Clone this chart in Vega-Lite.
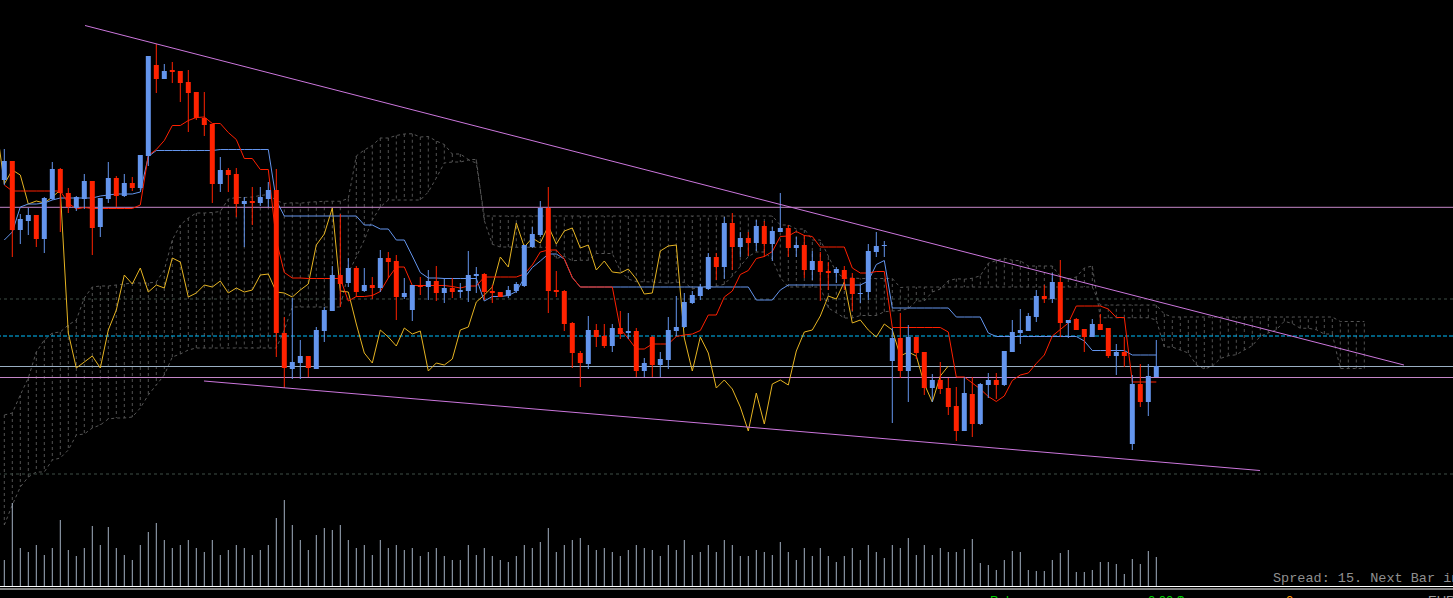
{
"$schema":"https://vega.github.io/schema/vega-lite/v6.json",
"width":1453,"height":598,
"autosize":{"type":"fit","contains":"padding"},
"padding":0,
"background":"#000000",
"config":{"view":{"stroke":null},"scale":{"continuousPadding":0}},
"datasets":{
"bars":[
{"i":-1,"ch":144.73},
{"i":0,"o":144.18,"h":144.49,"l":144.13,"c":144.37,"t":144.13,"k":143.58,"ch":144.14,"v":260},
{"i":1,"o":144.37,"h":144.37,"l":143.41,"c":143.68,"t":144.07,"k":143.66,"ch":144.28,"v":830},
{"i":2,"o":143.68,"h":143.84,"l":143.54,"c":143.79,"t":144.07,"k":143.91,"ch":144.23,"v":380},
{"i":3,"o":143.77,"h":143.90,"l":143.63,"c":143.83,"t":144.07,"k":143.94,"ch":143.94,"v":340},
{"i":4,"o":143.83,"h":143.83,"l":143.51,"c":143.59,"t":144.07,"k":143.94,"ch":143.97,"v":410},
{"i":5,"o":143.59,"h":144.01,"l":143.45,"c":144.00,"t":144.07,"k":143.95,"ch":143.95,"v":310},
{"i":6,"o":143.99,"h":144.36,"l":143.98,"c":144.29,"t":144.07,"k":143.98,"ch":144.01,"v":380},
{"i":7,"o":144.29,"h":144.30,"l":143.66,"c":144.05,"t":144.07,"k":144.00,"ch":144.08,"v":660},
{"i":8,"o":144.05,"h":144.10,"l":143.85,"c":143.91,"t":143.95,"k":144.00,"ch":142.65,"v":360},
{"i":9,"o":143.90,"h":144.02,"l":143.87,"c":144.01,"t":143.89,"k":144.00,"ch":142.30,"v":300},
{"i":10,"o":143.99,"h":144.24,"l":143.89,"c":144.17,"t":143.905,"k":144.00,"ch":142.36,"v":380},
{"i":11,"o":144.17,"h":144.17,"l":143.43,"c":143.70,"t":143.895,"k":144.00,"ch":142.42,"v":600},
{"i":12,"o":143.71,"h":144.00,"l":143.61,"c":144.00,"t":143.895,"k":144.02,"ch":142.30,"v":410},
{"i":13,"o":143.99,"h":144.36,"l":143.95,"c":144.20,"t":143.895,"k":144.03,"ch":142.68,"v":590},
{"i":14,"o":144.20,"h":144.22,"l":143.91,"c":144.02,"t":143.895,"k":144.04,"ch":142.88,"v":380},
{"i":15,"o":144.02,"h":144.24,"l":144.01,"c":144.15,"t":143.895,"k":144.04,"ch":143.23,"v":310},
{"i":16,"o":144.15,"h":144.21,"l":144.07,"c":144.10,"t":143.895,"k":144.04,"ch":143.14,"v":260},
{"i":17,"o":144.10,"h":144.43,"l":144.08,"c":144.43,"t":143.93,"k":144.06,"ch":143.30,"v":410},
{"i":18,"o":144.42,"h":145.42,"l":144.32,"c":145.42,"t":144.425,"k":144.415,"ch":143.06,"v":540},
{"i":19,"o":145.33,"h":145.54,"l":145.05,"c":145.19,"t":144.485,"k":144.475,"ch":143.13,"v":630},
{"i":20,"o":145.19,"h":145.34,"l":145.19,"c":145.27,"t":144.575,"k":144.475,"ch":143.10,"v":460},
{"i":21,"o":145.28,"h":145.36,"l":145.15,"c":145.26,"t":144.725,"k":144.475,"ch":143.40,"v":380},
{"i":22,"o":145.27,"h":145.27,"l":144.96,"c":145.15,"t":144.725,"k":144.475,"ch":143.36,"v":410},
{"i":23,"o":145.16,"h":145.28,"l":144.66,"c":145.05,"t":144.775,"k":144.475,"ch":143.01,"v":460},
{"i":24,"o":145.06,"h":145.06,"l":144.78,"c":144.80,"t":144.805,"k":144.475,"ch":143.05,"v":380},
{"i":25,"o":144.80,"h":145.06,"l":144.62,"c":144.73,"t":144.81,"k":144.475,"ch":143.13,"v":340},
{"i":26,"o":144.74,"h":144.74,"l":143.95,"c":144.14,"t":144.745,"k":144.475,"ch":143.11,"v":460},
{"i":27,"o":144.14,"h":144.41,"l":144.06,"c":144.28,"t":144.745,"k":144.485,"ch":143.17,"v":310},
{"i":28,"o":144.28,"h":144.30,"l":144.06,"c":144.23,"t":144.655,"k":144.485,"ch":143.05,"v":360},
{"i":29,"o":144.24,"h":144.30,"l":143.81,"c":143.94,"t":144.585,"k":144.485,"ch":143.10,"v":410},
{"i":30,"o":143.94,"h":144.01,"l":143.51,"c":143.97,"t":144.395,"k":144.485,"ch":143.06,"v":380},
{"i":31,"o":143.97,"h":144.11,"l":143.73,"c":143.95,"t":144.395,"k":144.485,"ch":143.08,"v":310},
{"i":32,"o":143.95,"h":144.11,"l":143.92,"c":144.01,"t":144.285,"k":144.485,"ch":143.23,"v":360},
{"i":33,"o":143.99,"h":144.16,"l":143.91,"c":144.08,"t":144.285,"k":144.485,"ch":143.24,"v":410},
{"i":34,"o":144.08,"h":144.29,"l":142.41,"c":142.65,"t":143.575,"k":143.975,"ch":143.06,"v":680},
{"i":35,"o":142.65,"h":142.81,"l":142.10,"c":142.30,"t":143.255,"k":143.82,"ch":143.05,"v":860},
{"i":36,"o":142.29,"h":143.00,"l":142.19,"c":142.36,"t":143.20,"k":143.82,"ch":143.01,"v":610},
{"i":37,"o":142.35,"h":142.58,"l":142.19,"c":142.42,"t":143.20,"k":143.82,"ch":143.08,"v":460},
{"i":38,"o":142.42,"h":142.42,"l":142.21,"c":142.30,"t":143.195,"k":143.82,"ch":143.14,"v":360},
{"i":39,"o":142.29,"h":142.71,"l":142.29,"c":142.68,"t":143.195,"k":143.82,"ch":143.53,"v":510},
{"i":40,"o":142.67,"h":142.91,"l":142.56,"c":142.88,"t":143.195,"k":143.82,"ch":143.64,"v":580},
{"i":41,"o":142.87,"h":143.32,"l":142.87,"c":143.23,"t":143.195,"k":143.82,"ch":143.90,"v":560},
{"i":42,"o":143.23,"h":143.84,"l":142.91,"c":143.14,"t":143.195,"k":143.82,"ch":143.07,"v":610},
{"i":43,"o":143.15,"h":143.40,"l":143.11,"c":143.30,"t":142.97,"k":143.82,"ch":143.06,"v":460},
{"i":44,"o":143.30,"h":143.32,"l":143.01,"c":143.06,"t":143.015,"k":143.82,"ch":142.74,"v":380},
{"i":45,"o":143.07,"h":143.30,"l":143.06,"c":143.13,"t":143.015,"k":143.73,"ch":142.45,"v":410},
{"i":46,"o":143.13,"h":143.21,"l":142.99,"c":143.10,"t":143.025,"k":143.73,"ch":142.35,"v":310},
{"i":47,"o":143.10,"h":143.48,"l":143.06,"c":143.40,"t":143.065,"k":143.69,"ch":142.68,"v":460},
{"i":48,"o":143.40,"h":143.46,"l":143.20,"c":143.36,"t":143.20,"k":143.69,"ch":142.61,"v":380},
{"i":49,"o":143.37,"h":143.43,"l":142.78,"c":143.01,"t":143.31,"k":143.58,"ch":142.52,"v":410},
{"i":50,"o":143.01,"h":143.20,"l":142.99,"c":143.05,"t":143.31,"k":143.58,"ch":142.70,"v":360},
{"i":51,"o":142.88,"h":143.13,"l":142.77,"c":143.13,"t":143.125,"k":143.42,"ch":142.64,"v":380},
{"i":52,"o":143.13,"h":143.21,"l":143.03,"c":143.11,"t":143.125,"k":143.255,"ch":142.67,"v":300},
{"i":53,"o":143.11,"h":143.28,"l":142.98,"c":143.17,"t":143.125,"k":143.20,"ch":142.27,"v":340},
{"i":54,"o":143.17,"h":143.32,"l":142.97,"c":143.05,"t":143.125,"k":143.20,"ch":142.35,"v":380},
{"i":55,"o":143.05,"h":143.20,"l":142.95,"c":143.10,"t":143.125,"k":143.195,"ch":142.33,"v":300},
{"i":56,"o":143.10,"h":143.20,"l":143.00,"c":143.06,"t":143.115,"k":143.195,"ch":142.39,"v":260},
{"i":57,"o":143.06,"h":143.15,"l":143.00,"c":143.08,"t":143.10,"k":143.195,"ch":142.68,"v":260},
{"i":58,"o":143.07,"h":143.47,"l":142.96,"c":143.23,"t":143.12,"k":143.195,"ch":142.71,"v":410},
{"i":59,"o":143.22,"h":143.31,"l":143.05,"c":143.24,"t":143.12,"k":143.195,"ch":142.96,"v":310},
{"i":60,"o":143.24,"h":143.25,"l":142.98,"c":143.06,"t":143.21,"k":142.97,"ch":143.03,"v":380},
{"i":61,"o":143.07,"h":143.13,"l":142.95,"c":143.05,"t":143.21,"k":143.015,"ch":143.11,"v":300},
{"i":62,"o":143.06,"h":143.06,"l":143.01,"c":143.01,"t":143.21,"k":143.015,"ch":143.41,"v":260},
{"i":63,"o":143.02,"h":143.12,"l":143.00,"c":143.08,"t":143.21,"k":143.025,"ch":143.31,"v":240},
{"i":64,"o":143.07,"h":143.16,"l":143.05,"c":143.14,"t":143.21,"k":143.065,"ch":143.75,"v":300},
{"i":65,"o":143.12,"h":143.53,"l":143.11,"c":143.53,"t":143.24,"k":143.20,"ch":143.51,"v":410},
{"i":66,"o":143.51,"h":143.71,"l":143.50,"c":143.64,"t":143.33,"k":143.305,"ch":143.60,"v":380},
{"i":67,"o":143.63,"h":143.97,"l":143.61,"c":143.90,"t":143.46,"k":143.37,"ch":143.55,"v":440},
{"i":68,"o":143.90,"h":144.11,"l":142.85,"c":143.07,"t":143.48,"k":143.44,"ch":143.72,"v":580},
{"i":69,"o":143.08,"h":143.27,"l":143.01,"c":143.06,"t":143.48,"k":143.44,"ch":143.54,"v":340},
{"i":70,"o":143.07,"h":143.08,"l":142.67,"c":142.74,"t":143.39,"k":143.39,"ch":143.67,"v":410},
{"i":71,"o":142.75,"h":142.76,"l":142.30,"c":142.45,"t":143.205,"k":143.205,"ch":143.70,"v":460},
{"i":72,"o":142.45,"h":142.47,"l":142.11,"c":142.35,"t":143.11,"k":143.11,"ch":143.50,"v":480},
{"i":73,"o":142.34,"h":142.82,"l":142.29,"c":142.68,"t":143.11,"k":143.11,"ch":143.53,"v":410},
{"i":74,"o":142.68,"h":142.74,"l":142.51,"c":142.61,"t":143.11,"k":143.11,"ch":143.28,"v":360},
{"i":75,"o":142.62,"h":142.74,"l":142.50,"c":142.52,"t":143.11,"k":143.11,"ch":143.37,"v":380},
{"i":76,"o":142.52,"h":142.74,"l":142.46,"c":142.70,"t":143.11,"k":143.11,"ch":143.26,"v":340},
{"i":77,"o":142.70,"h":142.87,"l":142.59,"c":142.64,"t":142.69,"k":143.11,"ch":143.25,"v":300},
{"i":78,"o":142.65,"h":142.85,"l":142.59,"c":142.67,"t":142.595,"k":143.11,"ch":143.29,"v":360},
{"i":79,"o":142.67,"h":142.70,"l":142.21,"c":142.27,"t":142.49,"k":143.11,"ch":143.19,"v":410},
{"i":80,"o":142.27,"h":142.40,"l":142.21,"c":142.35,"t":142.49,"k":143.11,"ch":143.04,"v":380},
{"i":81,"o":142.61,"h":142.62,"l":142.21,"c":142.33,"t":142.54,"k":143.11,"ch":143.05,"v":360},
{"i":82,"o":142.33,"h":142.46,"l":142.21,"c":142.39,"t":142.54,"k":143.11,"ch":143.47,"v":300},
{"i":83,"o":142.38,"h":142.81,"l":142.29,"c":142.68,"t":142.54,"k":143.11,"ch":143.52,"v":410},
{"i":84,"o":142.67,"h":143.02,"l":142.62,"c":142.71,"t":142.615,"k":143.11,"ch":143.53,"v":360},
{"i":85,"o":142.71,"h":143.05,"l":142.70,"c":142.96,"t":142.63,"k":143.11,"ch":142.60,"v":460},
{"i":86,"o":142.95,"h":143.07,"l":142.94,"c":143.03,"t":142.64,"k":143.11,"ch":142.27,"v":310},
{"i":87,"o":143.02,"h":143.14,"l":142.98,"c":143.11,"t":142.675,"k":143.11,"ch":142.61,"v":340},
{"i":88,"o":143.09,"h":143.45,"l":143.08,"c":143.41,"t":142.83,"k":143.11,"ch":142.45,"v":410},
{"i":89,"o":143.41,"h":143.45,"l":143.18,"c":143.31,"t":142.83,"k":143.11,"ch":142.10,"v":340},
{"i":90,"o":143.31,"h":143.81,"l":143.19,"c":143.75,"t":143.01,"k":143.11,"ch":142.18,"v":460},
{"i":91,"o":143.75,"h":143.85,"l":143.28,"c":143.51,"t":143.07,"k":143.11,"ch":142.09,"v":410},
{"i":92,"o":143.51,"h":143.66,"l":143.41,"c":143.60,"t":143.235,"k":143.11,"ch":141.91,"v":300},
{"i":93,"o":143.60,"h":143.66,"l":143.42,"c":143.55,"t":143.275,"k":143.11,"ch":141.67,"v":300},
{"i":94,"o":143.55,"h":143.78,"l":143.47,"c":143.72,"t":143.395,"k":142.98,"ch":142.05,"v":360},
{"i":95,"o":143.72,"h":143.77,"l":143.41,"c":143.54,"t":143.415,"k":142.98,"ch":141.74,"v":340},
{"i":96,"o":143.54,"h":143.71,"l":143.37,"c":143.67,"t":143.465,"k":142.98,"ch":142.14,"v":310},
{"i":97,"o":143.66,"h":144.05,"l":143.66,"c":143.70,"t":143.615,"k":143.08,"ch":142.18,"v":440},
{"i":98,"o":143.70,"h":143.73,"l":143.41,"c":143.50,"t":143.62,"k":143.13,"ch":142.13,"v":340},
{"i":99,"o":143.50,"h":143.61,"l":143.41,"c":143.53,"t":143.665,"k":143.13,"ch":142.47,"v":260},
{"i":100,"o":143.53,"h":143.63,"l":143.20,"c":143.28,"t":143.625,"k":143.13,"ch":142.66,"v":380},
{"i":101,"o":143.28,"h":143.47,"l":143.18,"c":143.37,"t":143.615,"k":143.13,"ch":142.68,"v":300},
{"i":102,"o":143.37,"h":143.46,"l":142.97,"c":143.26,"t":143.51,"k":143.13,"ch":142.82,"v":380},
{"i":103,"o":143.27,"h":143.36,"l":143.08,"c":143.25,"t":143.51,"k":143.13,"ch":143.02,"v":300},
{"i":104,"o":143.25,"h":143.31,"l":143.15,"c":143.29,"t":143.51,"k":143.13,"ch":142.99,"v":240},
{"i":105,"o":143.28,"h":143.32,"l":143.08,"c":143.19,"t":143.51,"k":143.13,"ch":143.16,"v":300},
{"i":106,"o":143.20,"h":143.25,"l":142.87,"c":143.04,"t":143.30,"k":143.13,"ch":142.75,"v":380},
{"i":107,"o":143.04,"h":143.13,"l":142.95,"c":143.05,"t":143.25,"k":143.13,"ch":142.78,"v":260},
{"i":108,"o":143.06,"h":143.54,"l":142.98,"c":143.47,"t":143.25,"k":143.17,"ch":142.68,"v":410},
{"i":109,"o":143.46,"h":143.66,"l":143.41,"c":143.52,"t":143.265,"k":143.335,"ch":142.61,"v":340},
{"i":110,"o":143.52,"h":143.57,"l":143.41,"c":143.53,"t":143.265,"k":143.375,"ch":142.74,"v":280},
{"i":111,"o":142.37,"h":142.70,"l":141.75,"c":142.60,"t":142.705,"k":142.90,"ch":142.68,"v":410},
{"i":112,"o":142.60,"h":142.85,"l":142.20,"c":142.27,"t":142.705,"k":142.90,"ch":142.42,"v":380},
{"i":113,"o":142.27,"h":142.73,"l":141.96,"c":142.61,"t":142.705,"k":142.90,"ch":142.46,"v":480},
{"i":114,"o":142.61,"h":142.61,"l":142.39,"c":142.45,"t":142.705,"k":142.90,"ch":142.42,"v":310},
{"i":115,"o":142.46,"h":142.46,"l":142.03,"c":142.10,"t":142.705,"k":142.90,"ch":142.14,"v":410},
{"i":116,"o":142.10,"h":142.24,"l":141.96,"c":142.18,"t":142.705,"k":142.90,"ch":141.96,"v":310},
{"i":117,"o":142.18,"h":142.36,"l":142.04,"c":142.09,"t":142.705,"k":142.90,"ch":142.22,"v":380},
{"i":118,"o":142.10,"h":142.20,"l":141.83,"c":141.91,"t":142.66,"k":142.90,"ch":142.32,"v":340},
{"i":119,"o":141.92,"h":142.11,"l":141.57,"c":141.67,"t":142.21,"k":142.81,"v":340},
{"i":120,"o":141.67,"h":142.21,"l":141.67,"c":142.05,"t":142.21,"k":142.81,"v":370},
{"i":121,"o":142.04,"h":142.21,"l":141.61,"c":141.74,"t":142.15,"k":142.81,"v":470},
{"i":122,"o":141.74,"h":142.15,"l":141.73,"c":142.14,"t":142.09,"k":142.81,"v":230},
{"i":123,"o":142.13,"h":142.25,"l":142.00,"c":142.18,"t":142.015,"k":142.65,"v":210},
{"i":124,"o":142.18,"h":142.25,"l":141.99,"c":142.13,"t":141.965,"k":142.615,"v":160},
{"i":125,"o":142.13,"h":142.47,"l":142.12,"c":142.47,"t":142.02,"k":142.615,"v":260},
{"i":126,"o":142.46,"h":142.78,"l":142.46,"c":142.66,"t":142.175,"k":142.615,"v":350},
{"i":127,"o":142.65,"h":142.89,"l":142.54,"c":142.68,"t":142.23,"k":142.615,"v":340},
{"i":128,"o":142.67,"h":142.85,"l":142.67,"c":142.82,"t":142.25,"k":142.615,"v":160},
{"i":129,"o":142.81,"h":143.08,"l":142.76,"c":143.02,"t":142.345,"k":142.615,"v":150},
{"i":130,"o":143.02,"h":143.13,"l":142.95,"c":142.99,"t":142.43,"k":142.615,"v":150},
{"i":131,"o":142.99,"h":143.25,"l":142.95,"c":143.16,"t":142.62,"k":142.615,"v":260},
{"i":132,"o":143.16,"h":143.38,"l":142.61,"c":142.75,"t":142.685,"k":142.615,"v":330},
{"i":133,"o":142.75,"h":142.78,"l":142.60,"c":142.78,"t":142.75,"k":142.615,"v":360},
{"i":134,"o":142.79,"h":142.80,"l":142.68,"c":142.68,"t":142.92,"k":142.615,"v":140},
{"i":135,"o":142.69,"h":142.69,"l":142.46,"c":142.61,"t":142.92,"k":142.57,"v":140},
{"i":136,"o":142.61,"h":142.79,"l":142.61,"c":142.74,"t":142.92,"k":142.475,"v":160},
{"i":137,"o":142.74,"h":142.84,"l":142.68,"c":142.68,"t":142.92,"k":142.475,"v":240},
{"i":138,"o":142.70,"h":142.70,"l":142.40,"c":142.42,"t":142.89,"k":142.475,"v":240},
{"i":139,"o":142.42,"h":142.54,"l":142.23,"c":142.46,"t":142.805,"k":142.475,"v":220},
{"i":140,"o":142.46,"h":142.61,"l":142.31,"c":142.42,"t":142.805,"k":142.475,"v":120},
{"i":141,"o":141.54,"h":142.23,"l":141.48,"c":142.14,"t":142.16,"k":142.43,"v":270},
{"i":142,"o":142.14,"h":142.34,"l":141.91,"c":141.96,"t":142.16,"k":142.43,"v":220},
{"i":143,"o":141.96,"h":142.34,"l":141.82,"c":142.22,"t":142.16,"k":142.43,"v":350},
{"i":144,"o":142.21,"h":142.58,"l":142.21,"c":142.32,"t":142.16,"k":142.43,"v":290}
],
"cloud":[
{"j":0,"a":141.83,"b":140.73},{"j":1,"a":141.85,"b":140.93},{"j":2,"a":142.03,"b":141.11},{"j":3,"a":142.20,"b":141.21},
{"j":4,"a":142.46,"b":141.26},{"j":5,"a":142.58,"b":141.26},{"j":6,"a":142.65,"b":141.38},{"j":7,"a":142.66,"b":141.40},
{"j":8,"a":142.73,"b":141.48},{"j":9,"a":142.78,"b":141.63},{"j":10,"a":143.00,"b":141.64},{"j":11,"a":143.11,"b":141.70},
{"j":12,"a":143.12,"b":141.73},{"j":13,"a":143.12,"b":141.79},{"j":14,"a":143.13,"b":141.80},{"j":15,"a":143.14,"b":141.80},
{"j":16,"a":143.15,"b":141.81},{"j":17,"a":143.15,"b":141.90},{"j":18,"a":143.15,"b":142.03},{"j":19,"a":143.16,"b":142.13},
{"j":20,"a":143.28,"b":142.23},{"j":21,"a":143.58,"b":142.41},{"j":22,"a":143.73,"b":142.44},{"j":23,"a":143.80,"b":142.48},
{"j":24,"a":143.85,"b":142.50},{"j":25,"a":143.85,"b":142.50},{"j":26,"a":143.855,"b":142.50},{"j":27,"a":143.865,"b":142.50},
{"j":28,"a":143.99,"b":142.50},{"j":29,"a":144.005,"b":142.50},{"j":30,"a":144.005,"b":142.50},{"j":31,"a":144.01,"b":142.50},
{"j":32,"a":144.025,"b":142.50},{"j":33,"a":144.035,"b":142.50},{"j":34,"a":143.975,"b":142.50},{"j":35,"a":143.945,"b":142.68},
{"j":36,"a":143.9525,"b":142.91},{"j":37,"a":143.9475,"b":142.91},{"j":38,"a":143.9575,"b":142.91},{"j":39,"a":143.9625,"b":142.91},
{"j":40,"a":143.9675,"b":142.91},{"j":41,"a":143.9675,"b":142.91},{"j":42,"a":143.9675,"b":142.91},{"j":43,"a":143.995,"b":143.25},
{"j":44,"a":144.42,"b":143.41},{"j":45,"a":144.48,"b":143.58},{"j":46,"a":144.525,"b":143.78},{"j":47,"a":144.60,"b":143.91},
{"j":48,"a":144.60,"b":143.98},{"j":49,"a":144.625,"b":143.98},{"j":50,"a":144.64,"b":143.98},{"j":51,"a":144.6425,"b":143.98},
{"j":52,"a":144.61,"b":143.98},{"j":53,"a":144.615,"b":144.06},{"j":54,"a":144.57,"b":144.20},{"j":55,"a":144.535,"b":144.35},
{"j":56,"a":144.44,"b":144.36},{"j":57,"a":144.44,"b":144.36},{"j":58,"a":144.385,"b":144.38},{"j":59,"a":144.385,"b":144.35},
{"j":60,"a":143.775,"b":143.82},{"j":61,"a":143.5375,"b":143.82},{"j":62,"a":143.51,"b":143.82},{"j":63,"a":143.51,"b":143.82},
{"j":64,"a":143.5075,"b":143.82},{"j":65,"a":143.5075,"b":143.82},{"j":66,"a":143.5075,"b":143.82},{"j":67,"a":143.5075,"b":143.82},
{"j":68,"a":143.5075,"b":143.82},{"j":69,"a":143.395,"b":143.82},{"j":70,"a":143.4175,"b":143.82},{"j":71,"a":143.3725,"b":143.82},
{"j":72,"a":143.3775,"b":143.82},{"j":73,"a":143.3775,"b":143.82},{"j":74,"a":143.445,"b":143.82},{"j":75,"a":143.445,"b":143.82},
{"j":76,"a":143.445,"b":143.82},{"j":77,"a":143.2725,"b":143.82},{"j":78,"a":143.19,"b":143.82},{"j":79,"a":143.1625,"b":143.82},
{"j":80,"a":143.1625,"b":143.82},{"j":81,"a":143.16,"b":143.82},{"j":82,"a":143.155,"b":143.82},{"j":83,"a":143.1475,"b":143.82},
{"j":84,"a":143.1575,"b":143.82},{"j":85,"a":143.1575,"b":143.82},{"j":86,"a":143.09,"b":143.82},{"j":87,"a":143.1125,"b":143.82},
{"j":88,"a":143.1125,"b":143.82},{"j":89,"a":143.1175,"b":143.82},{"j":90,"a":143.1375,"b":143.82},{"j":91,"a":143.22,"b":143.82},
{"j":92,"a":143.3175,"b":143.82},{"j":93,"a":143.415,"b":143.82},{"j":94,"a":143.46,"b":143.82},{"j":95,"a":143.46,"b":143.82},
{"j":96,"a":143.39,"b":143.82},{"j":97,"a":143.205,"b":143.73},{"j":98,"a":143.11,"b":143.73},{"j":99,"a":143.11,"b":143.69},
{"j":100,"a":143.11,"b":143.69},{"j":101,"a":143.11,"b":143.58},{"j":102,"a":143.11,"b":143.58},{"j":103,"a":142.90,"b":143.42},
{"j":104,"a":142.8525,"b":143.255},{"j":105,"a":142.80,"b":143.20},{"j":106,"a":142.80,"b":143.20},{"j":107,"a":142.825,"b":143.195},
{"j":108,"a":142.825,"b":143.195},{"j":109,"a":142.825,"b":143.195},{"j":110,"a":142.8625,"b":143.195},{"j":111,"a":142.87,"b":143.195},
{"j":112,"a":142.875,"b":143.105},{"j":113,"a":142.8925,"b":143.11},{"j":114,"a":142.97,"b":143.11},{"j":115,"a":142.97,"b":143.11},
{"j":116,"a":143.06,"b":143.11},{"j":117,"a":143.09,"b":143.11},{"j":118,"a":143.1725,"b":143.11},{"j":119,"a":143.1925,"b":143.11},
{"j":120,"a":143.1875,"b":143.11},{"j":121,"a":143.1975,"b":143.11},{"j":122,"a":143.2225,"b":143.11},{"j":123,"a":143.3475,"b":143.11},
{"j":124,"a":143.375,"b":143.11},{"j":125,"a":143.3975,"b":143.11},{"j":126,"a":143.3775,"b":143.11},{"j":127,"a":143.3725,"b":143.11},
{"j":128,"a":143.32,"b":143.11},{"j":129,"a":143.32,"b":143.11},{"j":130,"a":143.32,"b":143.11},{"j":131,"a":143.32,"b":143.11},
{"j":132,"a":143.215,"b":143.11},{"j":133,"a":143.19,"b":143.11},{"j":134,"a":143.21,"b":143.11},{"j":135,"a":143.30,"b":143.11},
{"j":136,"a":143.32,"b":143.11},{"j":137,"a":142.8025,"b":142.93},{"j":138,"a":142.8025,"b":142.93},{"j":139,"a":142.8025,"b":142.93},
{"j":140,"a":142.8025,"b":142.93},{"j":141,"a":142.8025,"b":142.93},{"j":142,"a":142.8025,"b":142.93},{"j":143,"a":142.8025,"b":142.93},
{"j":144,"a":142.78,"b":142.93},{"j":145,"a":142.51,"b":142.84},{"j":146,"a":142.51,"b":142.81},{"j":147,"a":142.48,"b":142.81},
{"j":148,"a":142.45,"b":142.81},{"j":149,"a":142.3325,"b":142.81},{"j":150,"a":142.29,"b":142.81},{"j":151,"a":142.3175,"b":142.81},
{"j":152,"a":142.395,"b":142.81},{"j":153,"a":142.4225,"b":142.81},{"j":154,"a":142.4325,"b":142.81},{"j":155,"a":142.48,"b":142.81},
{"j":156,"a":142.5225,"b":142.81},{"j":157,"a":142.6175,"b":142.81},{"j":158,"a":142.65,"b":142.81},{"j":159,"a":142.6825,"b":142.81},
{"j":160,"a":142.7675,"b":142.81},{"j":161,"a":142.745,"b":142.81},{"j":162,"a":142.6975,"b":142.81},{"j":163,"a":142.6975,"b":142.81},
{"j":164,"a":142.6825,"b":142.81},{"j":165,"a":142.64,"b":142.81},{"j":166,"a":142.64,"b":142.81},{"j":167,"a":142.295,"b":142.765},
{"j":168,"a":142.295,"b":142.765},{"j":169,"a":142.295,"b":142.765},{"j":170,"a":142.295,"b":142.765}
],
"trend":[
{"x1":10.09,"p1":145.725,"x2":174.96,"p2":142.33},
{"x1":24.96,"p1":142.17,"x2":156.96,"p2":141.275}
],
"levels":[
{"id":"v","p":143.907},{"id":"v","p":142.205},{"id":"s","p":142.315},
{"id":"d","p":142.99},{"id":"d","p":141.24},{"id":"cy","p":142.62},
{"id":"w","p":140.115},{"id":"w","p":140.09}
],
"labels":[
{"id":"spread","txt":"Spread: 15. Next Bar in"},
{"id":"bal","txt":"Balance"},
{"id":"val","txt":"0.00 $"},
{"id":"pts","txt":"0 п"},
{"id":"cur","txt":"EUR"}
]
},
"layer":[
{"layer":[
{"data":{"name":"cloud"},"mark":{"type":"rule","color":"#525252","strokeWidth":1,"strokeDash":[3,3],"clip":true},
 "encoding":{"x":{"field":"j","type":"quantitative","scale":{"domain":[-0.5375,181.0875],"nice":false,"zero":false,"padding":0},"axis":null},
 "y":{"field":"a","type":"quantitative","scale":{"domain":[140,145.98],"nice":false,"zero":false,"padding":0},"axis":null},"y2":{"field":"b"}}},
{"data":{"name":"cloud"},"mark":{"type":"line","color":"#565656","strokeWidth":1,"strokeDash":[3,3],"clip":true},
 "encoding":{"x":{"field":"j","type":"quantitative"},"y":{"field":"a","type":"quantitative"}}},
{"data":{"name":"cloud"},"mark":{"type":"line","color":"#565656","strokeWidth":1,"strokeDash":[3,3],"clip":true},
 "encoding":{"x":{"field":"j","type":"quantitative"},"y":{"field":"b","type":"quantitative"}}},
{"data":{"name":"levels"},"transform":[{"filter":"datum.id == 'd'"}],"mark":{"type":"rule","color":"#3f4f47","strokeWidth":1,"strokeDash":[3,3],"clip":true},
 "encoding":{"y":{"field":"p","type":"quantitative"}}},
{"data":{"name":"levels"},"transform":[{"filter":"datum.id == 'cy'"}],"mark":{"type":"rule","color":"#00BFFF","strokeWidth":1,"strokeDash":[4,2],"clip":true},
 "encoding":{"y":{"field":"p","type":"quantitative"}}},
{"data":{"name":"levels"},"transform":[{"filter":"datum.id == 's'"}],"mark":{"type":"rule","color":"#9AAFC3","strokeWidth":1,"clip":true},
 "encoding":{"y":{"field":"p","type":"quantitative"}}},
{"data":{"name":"levels"},"transform":[{"filter":"datum.id == 'v'"}],"mark":{"type":"rule","color":"#C586C8","strokeWidth":1,"clip":true},
 "encoding":{"y":{"field":"p","type":"quantitative"}}},
{"data":{"name":"levels"},"transform":[{"filter":"datum.id == 'w'"}],"mark":{"type":"rule","color":"#FFFFFF","strokeWidth":1,"clip":true},
 "encoding":{"y":{"field":"p","type":"quantitative"}}},
{"data":{"name":"bars"},"transform":[{"filter":"isValid(datum.ch)"}],"mark":{"type":"line","color":"#E6B422","strokeWidth":1,"clip":true},
 "encoding":{"x":{"field":"i","type":"quantitative"},"y":{"field":"ch","type":"quantitative"}}},
{"data":{"name":"bars"},"transform":[{"filter":"isValid(datum.k)"}],"mark":{"type":"line","color":"#6495ED","strokeWidth":1,"clip":true},
 "encoding":{"x":{"field":"i","type":"quantitative"},"y":{"field":"k","type":"quantitative"}}},
{"data":{"name":"bars"},"transform":[{"filter":"isValid(datum.t)"}],"mark":{"type":"line","color":"#FF2000","strokeWidth":1,"clip":true},
 "encoding":{"x":{"field":"i","type":"quantitative"},"y":{"field":"t","type":"quantitative"}}},
{"data":{"name":"bars"},"transform":[{"filter":"isValid(datum.o)"}],"mark":{"type":"rule","strokeWidth":1,"clip":true},
 "encoding":{"x":{"field":"i","type":"quantitative"},"y":{"field":"l","type":"quantitative"},"y2":{"field":"h"},
 "color":{"condition":{"test":"datum.c >= datum.o","value":"#6495ED"},"value":"#FF2200"}}},
{"data":{"name":"bars"},"transform":[{"filter":"isValid(datum.o)"}],"mark":{"type":"bar","width":5,"clip":true},
 "encoding":{"x":{"field":"i","type":"quantitative"},"y":{"field":"o","type":"quantitative"},"y2":{"field":"c"},
 "color":{"condition":{"test":"datum.c >= datum.o","value":"#6495ED"},"value":"#FF2200"}}},
{"data":{"name":"trend"},"mark":{"type":"rule","color":"#CC77DD","strokeWidth":1,"clip":true},
 "encoding":{"x":{"field":"x1","type":"quantitative"},"x2":{"field":"x2"},"y":{"field":"p1","type":"quantitative"},"y2":{"field":"p2"}}},
{"data":{"name":"labels"},"transform":[{"filter":"datum.id == 'spread'"}],
 "mark":{"type":"text","align":"left","baseline":"alphabetic","font":"Liberation Mono","fontSize":13.5,"color":"#8F8F8F","clip":true},
 "encoding":{"x":{"datum":158.59},"y":{"datum":140.16},"text":{"field":"txt"}}},
{"data":{"name":"labels"},"transform":[{"filter":"datum.id == 'bal'"}],
 "mark":{"type":"text","align":"left","baseline":"alphabetic","font":"Liberation Sans","fontSize":13,"color":"#00D000","clip":true},
 "encoding":{"x":{"datum":123.21},"y":{"datum":139.93},"text":{"field":"txt"}}},
{"data":{"name":"labels"},"transform":[{"filter":"datum.id == 'val'"}],
 "mark":{"type":"text","align":"left","baseline":"alphabetic","font":"Liberation Sans","fontSize":13,"color":"#00D000","clip":true},
 "encoding":{"x":{"datum":142.96},"y":{"datum":139.93},"text":{"field":"txt"}}},
{"data":{"name":"labels"},"transform":[{"filter":"datum.id == 'pts'"}],
 "mark":{"type":"text","align":"left","baseline":"alphabetic","font":"Liberation Sans","fontSize":13,"color":"#FF9900","clip":true},
 "encoding":{"x":{"datum":160.21},"y":{"datum":139.93},"text":{"field":"txt"}}},
{"data":{"name":"labels"},"transform":[{"filter":"datum.id == 'cur'"}],
 "mark":{"type":"text","align":"left","baseline":"alphabetic","font":"Liberation Sans","fontSize":13,"color":"#A0A0A0","clip":true},
 "encoding":{"x":{"datum":177.96},"y":{"datum":139.93},"text":{"field":"txt"}}}
]},
{"data":{"name":"bars"},"transform":[{"filter":"isValid(datum.v)"}],"mark":{"type":"rule","color":"#A3B1C2","strokeWidth":1,"clip":true},
 "encoding":{"x":{"field":"i","type":"quantitative"},
 "y":{"field":"v","type":"quantitative","scale":{"domain":[-120,5860],"nice":false,"zero":false,"padding":0},"axis":null},
 "y2":{"datum":0}}}
],
"resolve":{"scale":{"y":"independent"}}
}
